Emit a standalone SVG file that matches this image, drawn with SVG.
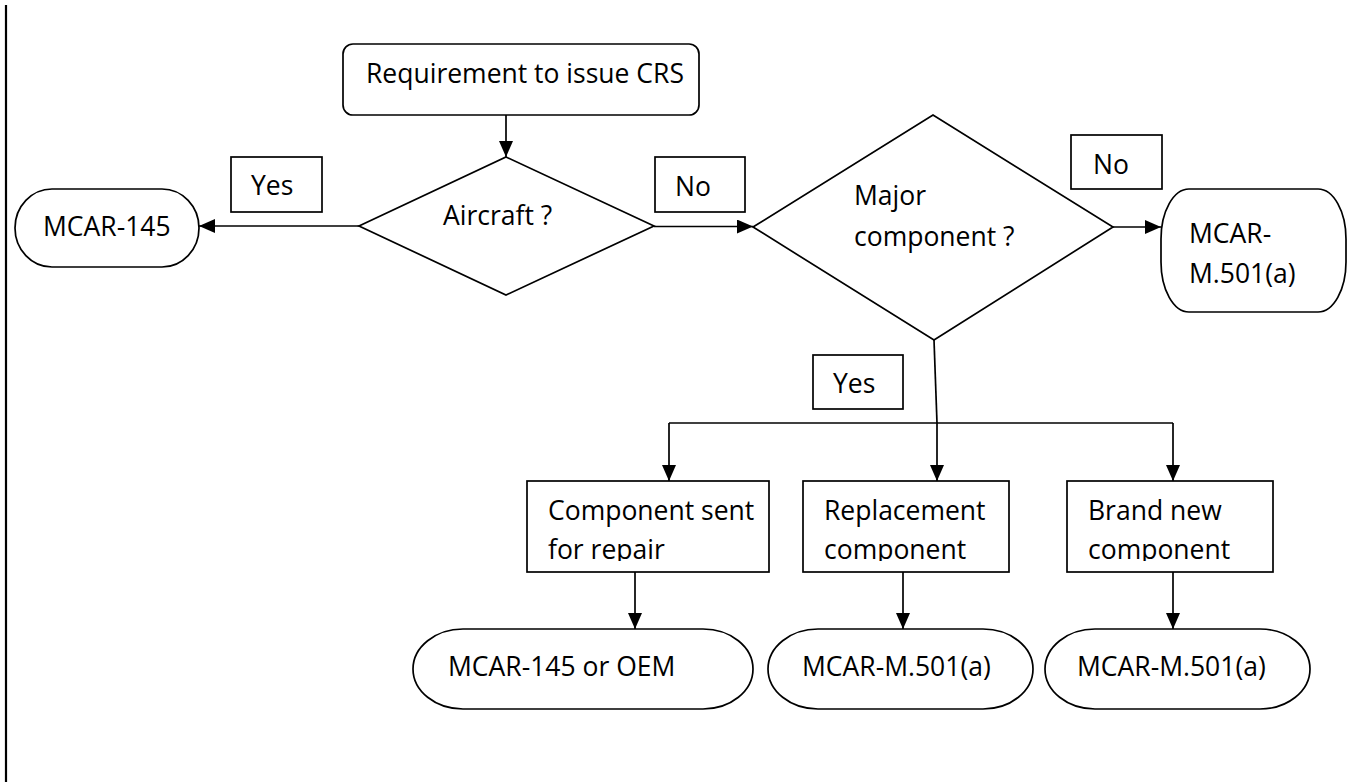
<svg xmlns="http://www.w3.org/2000/svg" width="1353" height="782" viewBox="0 0 1353 782">
<style>
.s{fill:#fff;stroke:#000;stroke-width:1.7}
.c{fill:none;stroke:#000;stroke-width:1.7}
text{font-family:"Open Sans","Liberation Sans",sans-serif;font-size:26.5px;fill:#000}
</style>
<defs>
<marker id="ah" markerUnits="userSpaceOnUse" markerWidth="16" markerHeight="14" refX="16" refY="7" orient="auto">
<path d="M0,0 L16,7 L0,14 z" fill="#000"/>
</marker>
<clipPath id="cb"><rect x="0" y="481" width="1353" height="80"/></clipPath>
</defs>
<rect width="1353" height="782" fill="#fff"/>
<line x1="6" y1="5" x2="6" y2="782" stroke="#000" stroke-width="2.2"/>
<g id="connectors">
<line class="c" x1="506" y1="115" x2="506" y2="157" marker-end="url(#ah)"/>
<line class="c" x1="359" y1="226" x2="199" y2="226" marker-end="url(#ah)"/>
<line class="c" x1="654" y1="226.5" x2="753" y2="226.5" marker-end="url(#ah)"/>
<line class="c" x1="1113" y1="227" x2="1161" y2="227" marker-end="url(#ah)"/>
<polyline class="c" points="934,340 937,423"/>
<polyline class="c" points="669,423 1173,423"/>
<line class="c" x1="669" y1="423" x2="669" y2="481" marker-end="url(#ah)"/>
<line class="c" x1="937" y1="423" x2="937" y2="481" marker-end="url(#ah)"/>
<line class="c" x1="1173" y1="423" x2="1173" y2="481" marker-end="url(#ah)"/>
<line class="c" x1="635" y1="572" x2="635" y2="629" marker-end="url(#ah)"/>
<line class="c" x1="903" y1="572" x2="903" y2="629" marker-end="url(#ah)"/>
<line class="c" x1="1173" y1="572" x2="1173" y2="629" marker-end="url(#ah)"/>
</g>
<g id="start">
<rect class="s" x="343" y="44" width="356" height="71" rx="10"/>
<text x="366" y="83">Requirement to issue CRS</text>
</g>
<g id="aircraft">
<polygon class="s" points="506,157 654,226 506,295 359,226"/>
<text x="443" y="225">Aircraft ?</text>
</g>
<g id="yes1">
<rect class="s" x="231" y="157" width="91" height="55"/>
<text x="251" y="195">Yes</text>
</g>
<g id="no1">
<rect class="s" x="655" y="157" width="90" height="55"/>
<text x="675" y="196">No</text>
</g>
<g id="mcar145">
<rect class="s" x="15" y="189" width="184" height="78" rx="37" ry="39"/>
<text x="43" y="236">MCAR-145</text>
</g>
<g id="major">
<polygon class="s" points="753,227 933,115 1113,227 934,340"/>
<text x="854" y="205">Major</text>
<text x="854" y="246">component ?</text>
</g>
<g id="no2">
<rect class="s" x="1071" y="135" width="91" height="54"/>
<text x="1093" y="174">No</text>
</g>
<g id="mcarm501a">
<rect class="s" x="1161" y="189" width="185" height="123" rx="28" ry="50"/>
<text x="1189" y="243">MCAR-</text>
<text x="1189" y="283">M.501(a)</text>
</g>
<g id="yes2">
<rect class="s" x="813" y="355" width="90" height="54"/>
<text x="833" y="393">Yes</text>
</g>
<g id="repair">
<rect class="s" x="527" y="481" width="242" height="91"/>
<g clip-path="url(#cb)">
<text x="548" y="520">Component sent</text>
<text x="548" y="559">for repair</text>
</g>
</g>
<g id="replacement">
<rect class="s" x="803" y="481" width="206" height="91"/>
<g clip-path="url(#cb)">
<text x="824" y="520">Replacement</text>
<text x="824" y="559">component</text>
</g>
</g>
<g id="brandnew">
<rect class="s" x="1067" y="481" width="206" height="91"/>
<g clip-path="url(#cb)">
<text x="1088" y="520">Brand new</text>
<text x="1088" y="559">component</text>
</g>
</g>
<g id="t1">
<rect class="s" x="413" y="629" width="340" height="80" rx="50" ry="40"/>
<text x="448" y="676">MCAR-145 or OEM</text>
</g>
<g id="t2">
<rect class="s" x="768" y="629" width="265" height="80" rx="50" ry="40"/>
<text x="802" y="676">MCAR-M.501(a)</text>
</g>
<g id="t3">
<rect class="s" x="1045" y="629" width="265" height="80" rx="50" ry="40"/>
<text x="1077" y="676">MCAR-M.501(a)</text>
</g>
</svg>
